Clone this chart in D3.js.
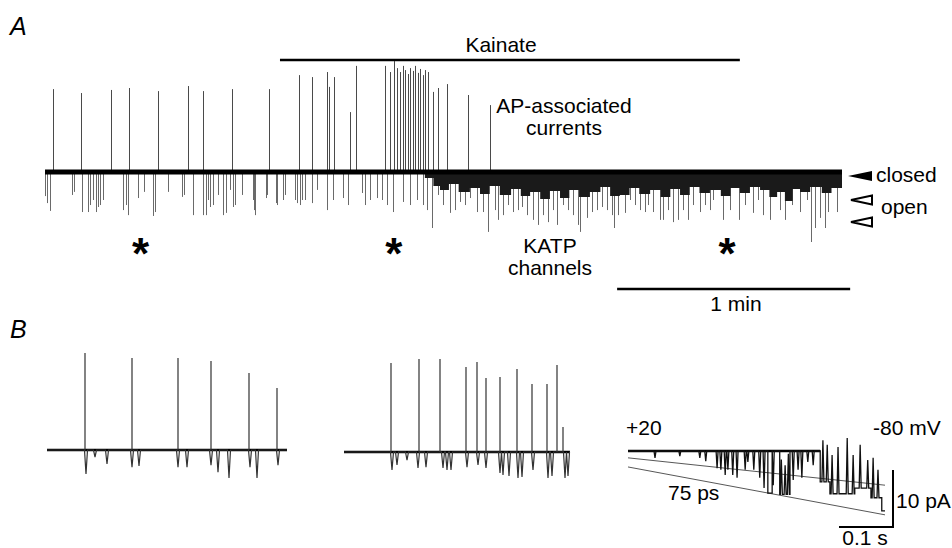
<!DOCTYPE html>
<html>
<head>
<meta charset="utf-8">
<script src="https://cdn.jsdelivr.net/npm/d3@7"></script>
<style>
    body { margin: 0; background: #fff; }
    svg text { font-family: "Liberation Sans", Arial, sans-serif; font-size: 21px; fill: #000; }
</style>
</head>
<body>
<svg id="fig" width="952" height="548"></svg>
<script>
// ---- panel A : cell-attached record, time in s, current in pA
var spikesA = [[2.1,29.6],[9.3,28.2],[17.0,29.3],[21.6,30.0],[29.1,28.9],[36.8,30.7],[40.7,28.9],[48.1,29.6],
    [57.7,29.6],[65.4,34.6],[68.7,33.9],[72.6,35.7],[73.1,30.4],[74.4,33.9],[78.5,21.4],[80.1,37.9],
    [87.5,37.9],[88.8,35.7],[89.9,39.6],[90.6,37.1],[91.4,35.7],[92.2,37.9],[92.7,36.4],[93.5,35.0],
    [94.0,37.1],[94.7,36.1],[95.3,37.9],[96.0,35.4],[96.5,36.8],[97.3,34.6],[97.8,36.4],[98.6,35.7],
    [99.9,28.6],[101.2,30.0],[103.5,31.4],[108.9,27.5],[114.6,23.9]];

var openingsA = [[0.0,-8.6],[0.5,-11.1],[1.3,-13.9],[7.0,-8.2],[7.5,-7.1],[9.5,-14.3],[11.1,-14.3],[11.6,-11.8],
    [12.4,-10.0],[13.1,-14.3],[13.6,-12.5],[14.2,-11.8],[14.9,-10.0],[20.1,-13.6],[20.9,-11.8],[21.4,-15.4],
    [23.9,-9.3],[25.5,-7.1],[27.8,-15.7],[28.3,-14.3],[31.7,-7.1],[35.3,-8.9],[35.8,-8.2],[38.1,-15.4],
    [40.7,-15.4],[41.5,-15.4],[42.0,-10.0],[42.5,-12.5],[43.3,-11.8],[44.5,-8.2],[45.8,-15.4],[46.6,-14.6],
    [47.6,-6.4],[48.4,-12.5],[48.9,-11.8],[50.7,-8.2],[53.6,-10.0],[53.8,-13.6],[54.1,-15.4],[56.9,-9.3],
    [57.2,-8.2],[59.5,-11.1],[59.7,-11.8],[61.3,-10.0],[61.8,-8.2],[64.4,-10.0],[64.9,-11.1],[65.7,-11.8],
    [66.2,-10.0],[66.9,-10.0],[68.7,-11.1],[70.0,-6.4],[72.6,-13.6],[74.2,-10.0],[76.7,-9.3],[78.0,-11.8],
    [81.6,-7.5],[82.4,-11.8],[83.7,-10.0],[85.5,-9.3],[86.8,-10.0],[88.1,-11.8],[89.6,-14.3],[92.2,-10.7],
    [94.0,-11.8],[95.8,-10.0],[97.3,-11.8],[98.4,-13.6],[99.6,-20.0],[101.2,-8.2],[102.5,-11.8],[104.3,-14.6],
    [105.6,-13.6],[106.8,-10.7],[108.1,-11.8],[109.4,-9.3],[111.2,-14.3],[112.8,-14.3],[114.1,-21.4],[115.9,-13.6],
    [116.6,-17.1],[117.9,-15.4],[119.2,-11.8],[120.5,-14.3],[121.8,-13.6],[122.8,-12.5],[124.1,-15.4],[125.6,-17.1],
    [126.9,-18.9],[128.2,-15.4],[129.5,-17.9],[130.8,-13.6],[131.8,-18.9],[133.4,-11.8],[134.7,-13.6],[135.9,-15.4],
    [137.2,-18.9],[137.7,-21.4],[139.5,-16.4],[140.8,-14.3],[142.1,-13.6],[143.4,-12.5],[144.7,-13.6],[146.0,-15.4],
    [146.5,-20.0],[147.5,-15.4],[149.3,-14.6],[150.6,-10.0],[151.9,-11.8],[153.2,-13.6],[154.5,-14.3],[155.3,-11.8],
    [156.5,-14.3],[158.3,-17.1],[159.1,-17.1],[160.4,-13.6],[161.7,-17.9],[163.0,-17.1],[164.3,-13.6],[165.5,-17.1],
    [166.8,-11.8],[168.6,-14.3],[169.9,-11.8],[171.2,-13.6],[172.0,-10.0],[174.6,-17.1],[176.4,-13.6],[178.7,-17.1],
    [180.2,-11.8],[182.3,-14.6],[183.6,-10.0],[184.9,-15.4],[186.7,-17.1],[189.2,-13.6],[190.5,-17.1],[192.3,-11.8],
    [194.4,-14.3],[196.2,-10.0],[197.2,-25.0],[198.2,-20.0],[199.5,-16.4],[200.8,-20.0],[201.6,-14.3],[203.9,-14.3]];

// lower edge of the dense flicker band after kainate (blocks)
var flickerBandA = [[95.0,0],[97.8,-2.1],[100.0,-5.0],[101.7,-6.4],[104.0,-4.3],[106.5,-7.1],[109.4,-5.7],
    [112.0,-7.9],[114.5,-5.0],[117.1,-8.2],[120.0,-6.1],[122.5,-8.6],[124.9,-7.1],[127.5,-9.6],[130.0,-6.8],
    [132.6,-9.3],[135.0,-6.4],[137.5,-8.9],[140.3,-7.1],[143.0,-5.4],[145.5,-8.6],[148.0,-8.2],[150.5,-5.7],
    [153.0,-7.9],[155.8,-6.4],[158.5,-8.9],[161.0,-6.1],[163.5,-8.2],[166.0,-5.4],[168.5,-7.5],[171.2,-6.4],
    [174.0,-8.6],[176.5,-5.7],[178.9,-7.5],[181.5,-5.4],[184.1,-6.4],[186.5,-8.9],[188.5,-7.1],[190.5,-10.4],
    [192.5,-6.1],[194.4,-7.1],[197.0,-5.4],[200.0,-7.5],[202.5,-5.7],[205.2,-6.4]];

var recordEndA = 205.2;
var kainateA = [60.5, 178.9];
var scaleBarA = [147.3, 60];      // start, length (s)
var asterisksA = [24.6, 89.8, 175.6];

// ---- panel B : two bursts (time in s, current in pA)
var spikesB1 = [[0.38,34.6],[0.85,32.9],[1.31,32.9],[1.64,31.8],[2.02,27.5],[2.30,22.1]];
var dipsB1 = [[0.39,-8.6],[0.48,-2.5],[0.60,-5.0],[0.85,-6.1],[0.92,-5.7],[1.31,-6.1],[1.40,-6.1],
    [1.64,-5.4],[1.71,-7.9],[1.82,-10.0],[2.03,-6.1],[2.10,-10.0],[2.31,-5.4]];
var endB1 = 2.40;

var spikesB2 = [[0.47,31.8],[0.75,33.2],[0.96,33.2],[1.22,30.4],[1.33,32.1],[1.42,26.4],[1.56,26.8],
    [1.73,29.6],[1.88,24.3],[2.03,24.3],[2.13,31.1],[2.19,8.9]];
var dipsB2 = [[0.48,-6.4],[0.53,-4.6],[0.63,-2.9],[0.74,-5.7],[0.82,-5.4],[0.99,-5.7],[1.03,-6.4],[1.07,-6.4],
    [1.23,-5.4],[1.34,-4.6],[1.42,-5.7],[1.56,-7.5],[1.59,-8.2],[1.65,-8.6],[1.74,-9.3],[1.78,-8.9],
    [1.89,-6.4],[2.04,-9.3],[2.08,-8.6],[2.21,-9.3],[2.24,-8.6]];
var endB2 = 2.26;

// ---- panel B right : ramp +20 -> -80 mV
var rampFlickers = [[0.050,-1.2],[0.096,-0.9],[0.133,-1.2],[0.144,-1.8],[0.165,-3.0],[0.172,-3.3],[0.180,-4.2],
    [0.185,-3.3],[0.194,-4.2],[0.202,-4.7],[0.217,-3.3],[0.222,-1.9],[0.233,-3.3],[0.244,-4.7],[0.252,-6.5],
    [0.269,-6.0],[0.306,-5.1],[0.315,-3.3],[0.322,-4.7],[0.333,-1.9],[0.343,-2.5]];
var rampDwells = [[0.259,0.267,-7.4],[0.281,0.300,-7.6],[0.356,0.374,-5.4],[0.374,0.420,-7.5],
    [0.420,0.450,-6.5],[0.450,0.470,-8.2],[0.470,0.476,-10.5]];
var rampClosings = [[0.284,-1.5],[0.291,-2.5],[0.297,-0.5],[0.361,1.9],[0.369,1.1],[0.378,-0.7],[0.389,0.7],
    [0.406,2.3],[0.417,-0.7],[0.430,1.1],[0.444,-1.6],[0.454,-1.2],[0.463,-3.3]];
var rampEnd = 0.476;
var leakLine = [[0,-1.2],[0.476,-6.0]];
var openLine = [[0,-2.8],[0.476,-11.2]];


(function() {
    var svg = d3.select("#fig");

    function crisp(v) { return Math.round(v) + 0.5; }

    // ================= A
    var xA = d3.scaleLinear().domain([0, recordEndA]).range([45, 842]);
    var yA = d3.scaleLinear().domain([-25, 40]).range([242, 60]);
    var gA = svg.append("g");

    gA.selectAll("line.open")
        .data(openingsA)
        .enter()
        .append("line")
        .attr("class", "open")
        .attr("x1", d => crisp(xA(d[0])))
        .attr("x2", d => crisp(xA(d[0])))
        .attr("y1", yA(0))
        .attr("y2", d => yA(d[1]))
        .attr("stroke", "#6a6a6a")
        .attr("stroke-width", 1);

    gA.append("path")
        .datum(flickerBandA)
        .attr("d", d3.area().curve(d3.curveStepAfter).x(d => xA(d[0])).y0(yA(0)).y1(d => yA(d[1])))
        .attr("fill", "#1a1a1a");

    gA.selectAll("line.spike")
        .data(spikesA)
        .enter()
        .append("line")
        .attr("class", "spike")
        .attr("x1", d => crisp(xA(d[0])))
        .attr("x2", d => crisp(xA(d[0])))
        .attr("y1", yA(0))
        .attr("y2", d => yA(d[1]))
        .attr("stroke", "#4a4a4a")
        .attr("stroke-width", 1);

    gA.append("line")
        .attr("x1", xA(0)).attr("x2", xA(recordEndA))
        .attr("y1", yA(0)).attr("y2", yA(0))
        .attr("stroke", "#000")
        .attr("stroke-width", 5);

    // kainate bar
    gA.append("line")
        .attr("x1", xA(kainateA[0])).attr("x2", xA(kainateA[1]))
        .attr("y1", 60).attr("y2", 60)
        .attr("stroke", "#000").attr("stroke-width", 2.5);
    gA.append("text").attr("x", 501).attr("y", 52).attr("text-anchor", "middle").text("Kainate");

    // 1 min bar
    gA.append("line")
        .attr("x1", xA(scaleBarA[0])).attr("x2", xA(scaleBarA[0] + scaleBarA[1]))
        .attr("y1", 289).attr("y2", 289)
        .attr("stroke", "#000").attr("stroke-width", 2.5);
    gA.append("text").attr("x", 736).attr("y", 311).attr("text-anchor", "middle").text("1 min");

    gA.selectAll("text.star")
        .data(asterisksA)
        .enter()
        .append("text")
        .attr("class", "star")
        .attr("x", d => xA(d))
        .attr("y", 269)
        .attr("text-anchor", "middle")
        .style("font-size", "44px")
        .style("font-weight", "bold")
        .text("*");

    gA.append("text").attr("x", 564).attr("y", 113).attr("text-anchor", "middle").text("AP-associated");
    gA.append("text").attr("x", 564).attr("y", 135).attr("text-anchor", "middle").text("currents");
    gA.append("text").attr("x", 550).attr("y", 253).attr("text-anchor", "middle").text("KATP");
    gA.append("text").attr("x", 550).attr("y", 275).attr("text-anchor", "middle").text("channels");

    // closed / open markers
    gA.append("polygon").attr("points", "848,176 872,171 872,181").attr("fill", "#000");
    gA.append("polygon").attr("points", "851,200 872,195.5 872,204.5")
        .attr("fill", "#fff").attr("stroke", "#000").attr("stroke-width", 2);
    gA.append("polygon").attr("points", "851,222 872,217.5 872,226.5")
        .attr("fill", "#fff").attr("stroke", "#000").attr("stroke-width", 2);
    gA.append("text").attr("x", 876).attr("y", 182).text("closed");
    gA.append("text").attr("x", 881).attr("y", 214).text("open");

    svg.append("text").attr("x", 10).attr("y", 35).style("font-size", "25px").style("font-style", "italic").text("A");
    svg.append("text").attr("x", 10).attr("y", 338).style("font-size", "25px").style("font-style", "italic").text("B");

    // ================= B bursts
    function burst(x, y, spikes, dips, tEnd) {
        var ev = spikes.map(s => ({t: s[0], up: s[1]}))
            .concat(dips.map(d => ({t: d[0], dn: d[1]})))
            .sort((a, b) => a.t - b.t);
        var pts = [[x(0), y(0)]];
        ev.forEach(function(e) {
            var px = x(e.t);
            if (e.up !== undefined) pts.push([px, y(0)], [px, y(e.up)], [px, y(0)]);
            else pts.push([px - 1.5, y(0)], [px, y(e.dn)], [px + 1.5, y(0)]);
        });
        pts.push([x(tEnd), y(0)]);

        var g = svg.append("g");
        g.append("line")
            .attr("x1", x(0)).attr("x2", x(tEnd))
            .attr("y1", y(0)).attr("y2", y(0))
            .attr("stroke", "#000").attr("stroke-width", 2.5);
        g.append("path")
            .attr("d", d3.line()(pts))
            .attr("fill", "none")
            .attr("stroke", "#333")
            .attr("stroke-width", 1.2);
    }

    burst(d3.scaleLinear().domain([0, endB1]).range([47, 287]),
          d3.scaleLinear().domain([-10, 35]).range([478, 352]),
          spikesB1, dipsB1, endB1);
    burst(d3.scaleLinear().domain([0, endB2]).range([344, 570]),
          d3.scaleLinear().domain([-10, 35]).range([480, 354]),
          spikesB2, dipsB2, endB2);

    // ================= B ramp
    var xR = d3.scaleLinear().domain([0, rampEnd]).range([628, 885]);
    var yR = d3.scaleLinear().domain([-12, 3]).range([451 + 12 * 5.7, 451 - 3 * 5.7]);
    var gR = svg.append("g");

    [leakLine, openLine].forEach(function(l) {
        gR.append("line")
            .attr("x1", xR(l[0][0])).attr("y1", yR(l[0][1]))
            .attr("x2", xR(l[1][0])).attr("y2", yR(l[1][1]))
            .attr("stroke", "#444").attr("stroke-width", 0.9);
    });

    function rampPoints() {
        var pts = [[xR(0), yR(0)]];
        var ev = rampFlickers.map(f => ({t: f[0], f: f}))
            .concat(rampDwells.map(d => ({t: d[0], d: d})))
            .sort((a, b) => a.t - b.t);
        var level = 0;
        ev.forEach(function(e, i) {
            if (e.f) {
                var x = xR(e.f[0]);
                pts.push([x - 1, yR(0)], [x, yR(e.f[1])], [x + 1, yR(0)]);
                return;
            }
            var d = e.d, x0 = xR(d[0]), x1 = xR(d[1]);
            pts.push([x0, yR(level)], [x0, yR(d[2])]);
            rampClosings.filter(c => c[0] > d[0] && c[0] < d[1]).forEach(function(c) {
                var x = xR(c[0]);
                pts.push([x - 1, yR(d[2])], [x, yR(c[1])], [x + 1, yR(d[2])]);
            });
            pts.push([x1, yR(d[2])]);
            var next = ev[i + 1];
            if ((next && next.d && next.d[0] === d[1]) || d[1] >= rampEnd) {
                level = d[2];
            } else {
                pts.push([x1, yR(0)]);
                level = 0;
            }
        });
        if (level === 0) pts.push([xR(rampEnd), yR(0)]);
        return pts;
    }

    gR.append("line")
        .attr("x1", xR(0)).attr("x2", xR(0.356))
        .attr("y1", yR(0)).attr("y2", yR(0))
        .attr("stroke", "#000").attr("stroke-width", 2.5);
    gR.append("path")
        .attr("d", d3.line()(rampPoints()))
        .attr("fill", "none")
        .attr("stroke", "#111")
        .attr("stroke-width", 1.3);

    // scale bars 0.1 s / 10 pA
    var sbX = 893, sbY = 527;
    gR.append("path")
        .attr("d", "M" + (sbX - 540 * 0.1) + "," + sbY + "H" + sbX + "V" + (sbY - 10 * 5.7))
        .attr("fill", "none").attr("stroke", "#000").attr("stroke-width", 2);
    gR.append("text").attr("x", 896).attr("y", 508).text("10 pA");
    gR.append("text").attr("x", 865).attr("y", 545).attr("text-anchor", "middle").text("0.1 s");
    gR.append("text").attr("x", 626).attr("y", 435).text("+20");
    gR.append("text").attr("x", 873).attr("y", 435).text("-80 mV");
    gR.append("text").attr("x", 668).attr("y", 500).text("75 ps");
}());
</script>
</body>
</html>
